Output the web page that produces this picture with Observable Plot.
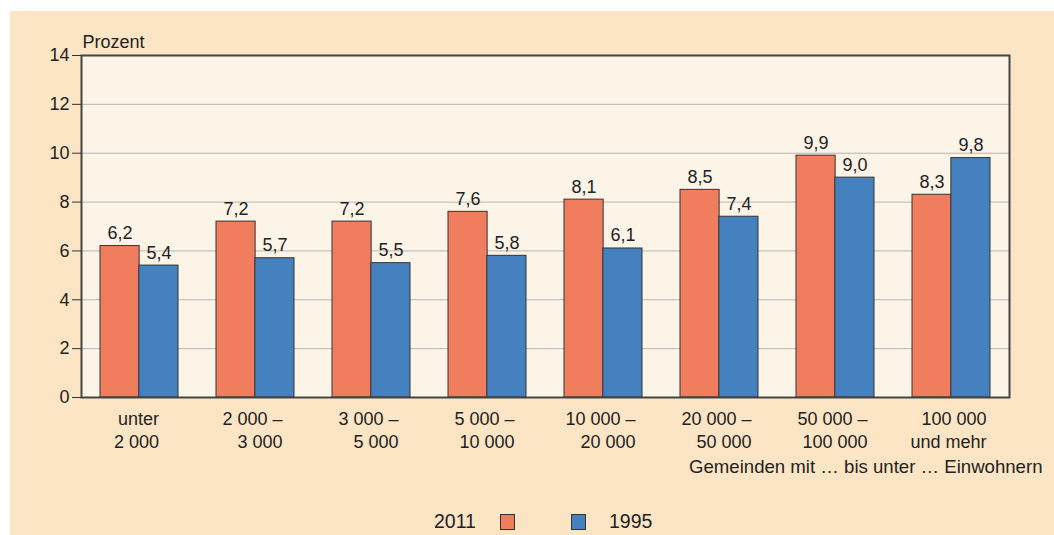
<!DOCTYPE html>
<html><head><meta charset="utf-8">
<script src="https://cdn.jsdelivr.net/npm/d3@7"></script>
<script src="https://cdn.jsdelivr.net/npm/@observablehq/plot@0.6"></script>
<style>
body{margin:0;background:#fff;font-family:"Liberation Sans",Arial,sans-serif;}
#panel{position:absolute;left:10px;top:11px;width:1044px;height:524px;background:#fce5c4;overflow:hidden;}
#panel svg{position:absolute;left:0;top:0;}
.lg{position:absolute;font-size:19.5px;line-height:22px;color:#222;white-space:nowrap;}
.sw{position:absolute;width:13px;height:14px;border:1px solid #333;}
</style></head><body><div id="panel"></div>
<script>
const categories = ["unter\n2 000","2 000 –\n3 000","3 000 –\n5 000","5 000 –\n10 000","10 000 –\n20 000","20 000 –\n50 000","50 000 –\n100 000","100 000\nund mehr"];
const values2011 = [6.2,7.2,7.2,7.6,8.1,8.5,9.9,8.3];
const values1995 = [5.4,5.7,5.5,5.8,6.1,7.4,9.0,9.8];
const seriesNames = ["2011","1995"];
const seriesColors = ["#ef7d5e","#4580bf"];
const yTicks = [0,2,4,6,8,10,12,14];
const yLabel = "Prozent";
const caption = "Gemeinden mit … bis unter … Einwohnern";

const W = 1044, H = 470, mL = 71, mR = 45, mT = 44, mB = 84;
const fs = 18;
const padInner = 0.33;
const step = (W - mL - mR) / categories.length;
const half = step * (1 - padInner) / 2;

const d2011 = categories.map((c,i)=>({cat:c, v:values2011[i]}));
const d1995 = categories.map((c,i)=>({cat:c, v:values1995[i]}));
const fmt = v => v.toFixed(1).replace(".", ",");

const ctx = document.createElement("canvas").getContext("2d");
ctx.font = `${fs}px "Liberation Sans", Arial, sans-serif`;
const blockW = c => Math.max(...c.split("\n").map(s => ctx.measureText(s).width));

const labelMarks = categories.map(c => Plot.text([c], {
  x: d=>d, text: d=>d, frameAnchor: "bottom", lineAnchor: "top", textAnchor: "end",
  dy: 12, dx: blockW(c)/2 - 3, lineHeight: 1.25, fill: "#222", fontSize: fs
}));

const chart = Plot.plot({
  width: W, height: H, marginLeft: mL, marginRight: mR, marginTop: mT, marginBottom: mB,
  style: {background: "transparent", fontFamily: '"Liberation Sans", Arial, sans-serif', fontSize: fs + "px", color: "#222"},
  x: {type: "band", domain: categories, paddingInner: padInner, paddingOuter: padInner/2, axis: null},
  y: {domain: [0, 14], axis: null},
  marks: [
    Plot.frame({fill: "#fdf4e8", stroke: null}),
    Plot.gridY(yTicks, {stroke: "#b5b5b5", strokeOpacity: 1, strokeWidth: 1}),
    Plot.barY(d2011, {x: "cat", y: "v", fill: seriesColors[0], stroke: "#333", strokeWidth: 1, insetRight: half}),
    Plot.barY(d1995, {x: "cat", y: "v", fill: seriesColors[1], stroke: "#333", strokeWidth: 1, insetLeft: half}),
    Plot.frame({stroke: "#444", strokeWidth: 2}),
    Plot.axisY({ticks: yTicks, tickSize: 9, tickPadding: 3, label: null, tickFormat: d => String(d), fontSize: fs, stroke: "#333"}),
    Plot.text(d2011, {x: "cat", y: "v", text: d => fmt(d.v), dx: -half/2, dy: -7, lineAnchor: "bottom", fill: "#222", fontSize: fs}),
    Plot.text(d1995, {x: "cat", y: "v", text: d => fmt(d.v), dx: half/2, dy: -7, lineAnchor: "bottom", fill: "#222", fontSize: fs}),
    ...labelMarks,
    Plot.text([yLabel], {text: d=>d, frameAnchor: "top-left", textAnchor: "start", lineAnchor: "bottom", dx: 1, dy: -8, fill: "#222", fontSize: fs}),
    Plot.text([caption], {text: d=>d, frameAnchor: "bottom-right", textAnchor: "end", lineAnchor: "bottom", dx: 33, dy: 75, fill: "#222", fontSize: 18.6})
  ]
});
const panel = document.getElementById("panel");
panel.appendChild(chart);

// legend
const legendItems = [
  {cls:"lg", text: seriesNames[0], left: 424, top: 499},
  {cls:"sw", color: seriesColors[0], left: 490, top: 503},
  {cls:"sw", color: seriesColors[1], left: 561, top: 503},
  {cls:"lg", text: seriesNames[1], left: 599, top: 499}
];
for (const it of legendItems) {
  const el = document.createElement("div");
  el.className = it.cls;
  el.style.left = it.left + "px";
  el.style.top = it.top + "px";
  if (it.text) el.textContent = it.text;
  if (it.color) el.style.background = it.color;
  panel.appendChild(el);
}
</script></body></html>
